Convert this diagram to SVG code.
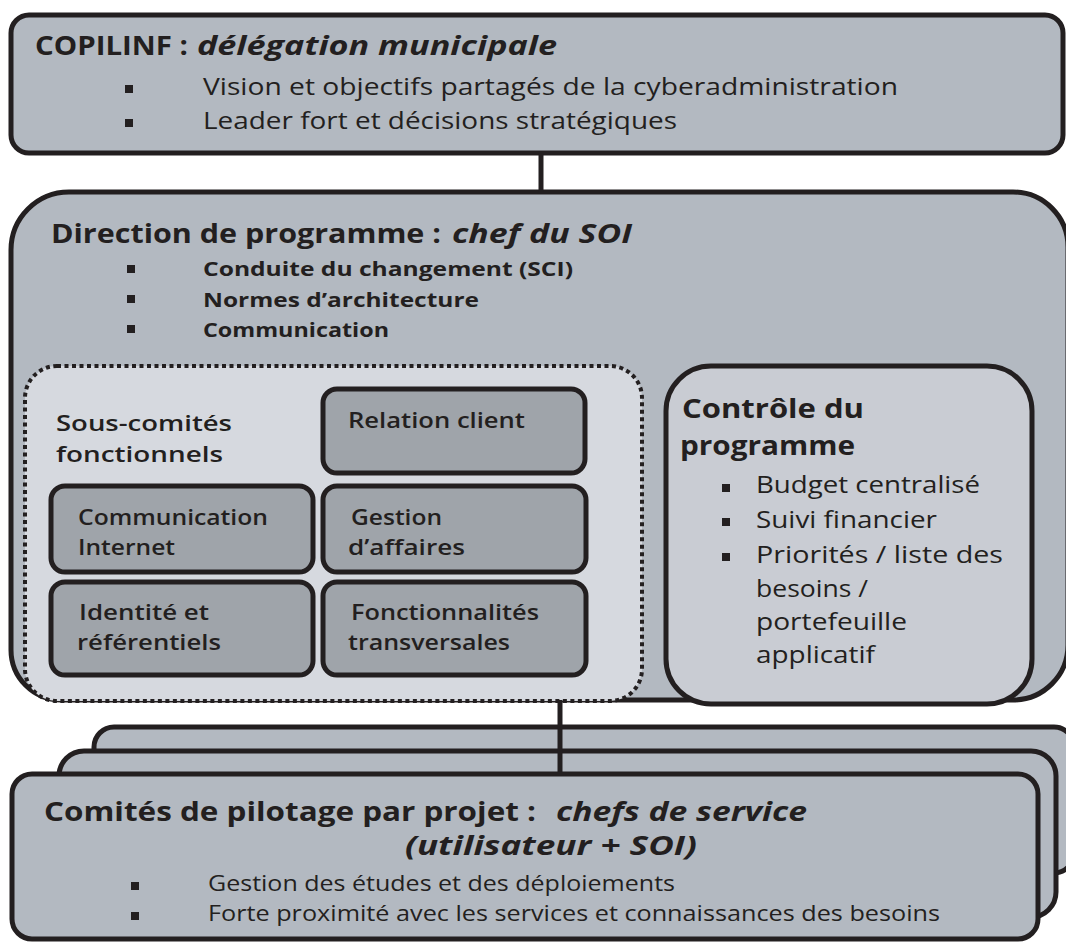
<svg xmlns="http://www.w3.org/2000/svg" width="1066" height="943" viewBox="0 0 1066 943">
<style>
.box{fill:#b3b9c1;stroke:#231f20;stroke-width:5}
.sub{fill:#9fa4aa;stroke:#231f20;stroke-width:5}
.ctl{fill:#c9ccd3;stroke:#231f20;stroke-width:5}
.dot{fill:#d6d9df;stroke:#231f20;stroke-width:4;stroke-dasharray:4 3.5}
.conn{stroke:#231f20;stroke-width:5;fill:none}
text{font-family:"Open Sans","Noto Sans","DejaVu Sans",sans-serif;fill:#231f20}
.t{font-weight:bold;font-size:27px}
.ti{font-weight:bold;font-style:italic;font-size:27px}
.b{font-size:24px}
.bc{font-size:22px}
.bb{font-weight:bold;font-size:20px}
.s{font-weight:600;font-size:22px}
.bul{fill:#231f20}
</style>
<g id="copilinf">
<rect class="box" x="11" y="15" width="1052" height="138" rx="18"/>
<text class="t" x="35" y="55" textLength="153" lengthAdjust="spacingAndGlyphs">COPILINF :</text>
<text class="ti" x="197" y="55" textLength="360" lengthAdjust="spacingAndGlyphs">délégation municipale</text>
<rect class="bul" x="125" y="85" width="8" height="8"/>
<rect class="bul" x="125" y="119" width="8" height="8"/>
<text class="b" x="203" y="95" textLength="695" lengthAdjust="spacingAndGlyphs">Vision et objectifs partagés de la cyberadministration</text>
<text class="b" x="203" y="129" textLength="474" lengthAdjust="spacingAndGlyphs">Leader fort et décisions stratégiques</text>
</g>
<g id="direction">
<path class="box" d="M11,250 A58,58 0 0 1 69,192 L1013,192 A55,55 0 0 1 1068,247 L1068,645 A55,55 0 0 1 1013,700 L61,700 A50,50 0 0 1 11,650 Z"/>
<text class="t" x="51" y="243" textLength="390" lengthAdjust="spacingAndGlyphs">Direction de programme :</text>
<text class="ti" x="452" y="243" textLength="180" lengthAdjust="spacingAndGlyphs">chef du SOI</text>
<rect class="bul" x="127" y="265" width="8" height="8"/>
<rect class="bul" x="127" y="295" width="8" height="8"/>
<rect class="bul" x="127" y="325" width="8" height="8"/>
<text class="bb" x="203" y="276" textLength="370" lengthAdjust="spacingAndGlyphs">Conduite du changement (SCI)</text>
<text class="bb" x="203" y="307" textLength="276" lengthAdjust="spacingAndGlyphs">Normes d’architecture</text>
<text class="bb" x="203" y="337" textLength="186" lengthAdjust="spacingAndGlyphs">Communication</text>
</g>
<g id="sous-comites">
<rect class="dot" x="25" y="366" width="617" height="335" rx="32"/>
<text class="s" x="56" y="431" textLength="176" lengthAdjust="spacingAndGlyphs">Sous-comités</text>
<text class="s" x="56" y="462" textLength="167" lengthAdjust="spacingAndGlyphs">fonctionnels</text>
</g>
<g id="relation-client">
<rect class="sub" x="323" y="389" width="262" height="84" rx="14"/>
<text class="s" x="348" y="428" textLength="177" lengthAdjust="spacingAndGlyphs">Relation client</text>
</g>
<g id="communication-internet">
<rect class="sub" x="51" y="486" width="262" height="86" rx="14"/>
<text class="s" x="78" y="525" textLength="190" lengthAdjust="spacingAndGlyphs">Communication</text>
<text class="s" x="78" y="555" textLength="97" lengthAdjust="spacingAndGlyphs">Internet</text>
</g>
<g id="gestion-affaires">
<rect class="sub" x="323" y="486" width="263" height="86" rx="14"/>
<text class="s" x="351" y="525" textLength="91" lengthAdjust="spacingAndGlyphs">Gestion</text>
<text class="s" x="348" y="555" textLength="117" lengthAdjust="spacingAndGlyphs">d’affaires</text>
</g>
<g id="identite">
<rect class="sub" x="51" y="582" width="262" height="93" rx="14"/>
<text class="s" x="79" y="620" textLength="130" lengthAdjust="spacingAndGlyphs">Identité et</text>
<text class="s" x="77" y="650" textLength="144" lengthAdjust="spacingAndGlyphs">référentiels</text>
</g>
<g id="fonctionnalites">
<rect class="sub" x="323" y="582" width="263" height="93" rx="14"/>
<text class="s" x="351" y="620" textLength="188" lengthAdjust="spacingAndGlyphs">Fonctionnalités</text>
<text class="s" x="348" y="650" textLength="162" lengthAdjust="spacingAndGlyphs">transversales</text>
</g>
<g id="controle">
<rect class="ctl" x="666" y="366" width="366" height="338" rx="45"/>
<text class="t" x="682" y="418" textLength="182" lengthAdjust="spacingAndGlyphs">Contrôle du</text>
<text class="t" x="680" y="455" textLength="175" lengthAdjust="spacingAndGlyphs">programme</text>
<rect class="bul" x="722" y="484" width="8" height="8"/>
<rect class="bul" x="722" y="518" width="8" height="8"/>
<rect class="bul" x="722" y="553" width="8" height="8"/>
<text class="b" x="756" y="493" textLength="224" lengthAdjust="spacingAndGlyphs">Budget centralisé</text>
<text class="b" x="756" y="528" textLength="181" lengthAdjust="spacingAndGlyphs">Suivi financier</text>
<text class="b" x="756" y="563" textLength="247" lengthAdjust="spacingAndGlyphs">Priorités / liste des</text>
<text class="b" x="756" y="597" textLength="112" lengthAdjust="spacingAndGlyphs">besoins /</text>
<text class="b" x="756" y="630" textLength="151" lengthAdjust="spacingAndGlyphs">portefeuille</text>
<text class="b" x="756" y="663" textLength="119" lengthAdjust="spacingAndGlyphs">applicatif</text>
</g>
<g id="comites-back">
<rect class="box" x="94" y="727" width="980" height="146" rx="20"/>
<rect class="box" x="59" y="751" width="997" height="166" rx="25"/>
</g>
<g id="connectors">
<line class="conn" x1="541" y1="153" x2="541" y2="192"/>
<line class="conn" x1="560" y1="700" x2="560" y2="774"/>
</g>
<g id="comites">
<rect class="box" x="12" y="774" width="1026" height="165" rx="20"/>
<text class="t" x="44" y="821" textLength="492" lengthAdjust="spacingAndGlyphs">Comités de pilotage par projet :</text>
<text class="ti" x="556" y="821" textLength="251" lengthAdjust="spacingAndGlyphs">chefs de service</text>
<text class="ti" x="405" y="855" textLength="292" lengthAdjust="spacingAndGlyphs">(utilisateur + SOI)</text>
<rect class="bul" x="131" y="882" width="8" height="8"/>
<rect class="bul" x="131" y="912" width="8" height="8"/>
<text class="bc" x="208" y="891" textLength="467" lengthAdjust="spacingAndGlyphs">Gestion des études et des déploiements</text>
<text class="bc" x="208" y="921" textLength="732" lengthAdjust="spacingAndGlyphs">Forte proximité avec les services et connaissances des besoins</text>
</g>
</svg>
